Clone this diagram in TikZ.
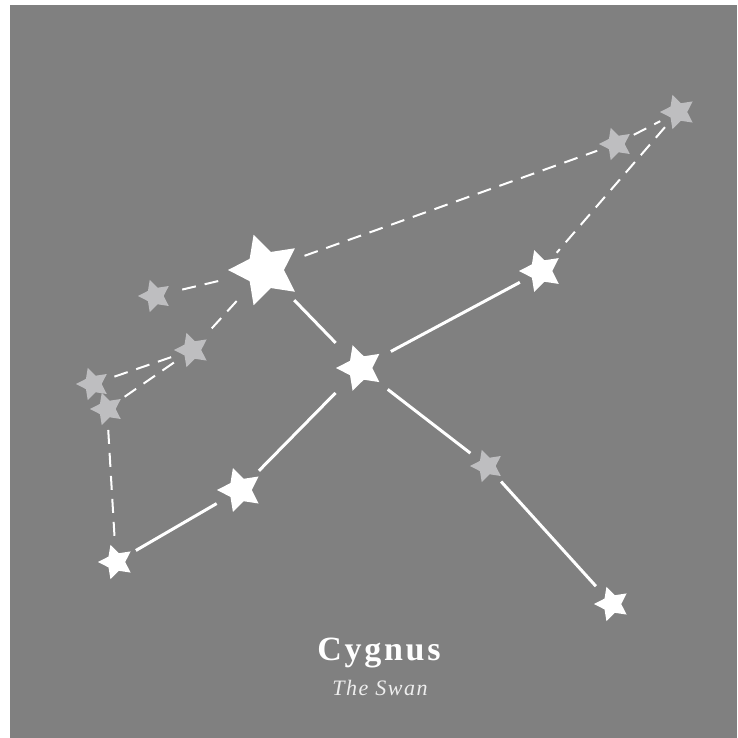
\documentclass[tikz,border=0pt]{standalone}
\usepackage{fontspec}
\setmainfont{Liberation Serif}
\usetikzlibrary{shapes.geometric}
\definecolor{bg}{RGB}{128,128,128}
\definecolor{dimstar}{RGB}{190,190,192}
\definecolor{subcol}{RGB}{238,238,238}
\tikzset{
  gap/.style={circle,inner sep=0pt,outer sep=0pt,minimum size=#1},
  starfill/.style 2 args={star,star points=5,star point ratio=1.95,inner sep=0pt,outer sep=0pt,
     minimum size=#1,fill=#2,rotate=18},
  solidline/.style={white,line width=3pt},
  dashline/.style={white,line width=2pt,dash pattern=on 14pt off 9pt},
}
\newcommand\skystar[6]{% name, x, y, R, gap radius, colour
  \node[gap=2*#5pt] (#1) at (#2,#3) {};
  \node[starfill={2*#4pt}{#6}] at (#1.center) {};
}
\begin{document}
\begin{tikzpicture}[x=1pt,y=-1pt]
\useasboundingbox (0,0) rectangle (737,738);
\fill[white] (0,0) rectangle (737,738);
\fill[bg] (10,5) rectangle (737,738);
% stars
\skystar{A}{265}{270}{37}{42}{white}
\skystar{B}{360}{368}{24}{35}{white}
\skystar{C}{541}{271}{22}{24}{white}
\skystar{D}{240}{490}{23}{27}{white}
\skystar{E}{116}{562}{18}{23}{white}
\skystar{F}{612}{604}{18}{24}{white}
\skystar{G}{487}{466}{17}{21}{dimstar}
\skystar{H}{155}{296}{17}{28}{dimstar}
\skystar{I}{192}{350}{18}{22}{dimstar}
\skystar{J}{93}{384}{17}{21}{dimstar}
\skystar{K}{107}{409}{17}{21}{dimstar}
\skystar{L}{616}{144}{17}{20}{dimstar}
\skystar{M}{678}{112}{18}{20}{dimstar}
% solid connectors
\draw[solidline] (A) -- (B);
\draw[solidline] (B) -- (C);
\draw[solidline] (B) -- (D);
\draw[solidline] (D) -- (E);
\draw[solidline] (B) -- (G);
\draw[solidline] (G) -- (F);
% dashed connectors
\draw[dashline] (H) -- (A);
\draw[dashline] (A) -- (L);
\draw[dashline] (L) -- (M);
\draw[dashline] (M) -- (C);
\draw[dashline] (A) -- (I);
\draw[dashline] (I) -- (J);
\draw[dashline] (I) -- (K);
\draw[dashline] (K) -- (E);
% labels
\node[anchor=base,white,inner sep=0pt,font=\fontsize{34}{34}\selectfont\bfseries\addfontfeature{LetterSpace=8}] (title) at (379,660) {Cygnus};
\node[anchor=base,subcol,inner sep=0pt,font=\fontsize{22}{22}\selectfont\itshape\addfontfeature{LetterSpace=7}] (sub) at (380,695) {The Swan};
\end{tikzpicture}
\end{document}
